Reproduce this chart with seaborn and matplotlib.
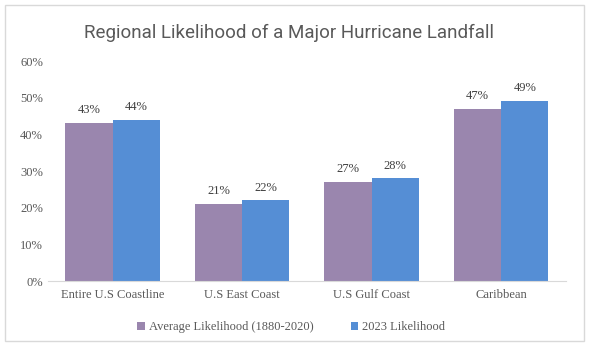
import pandas as pd
import seaborn as sns
import matplotlib.pyplot as plt
from matplotlib.patches import Rectangle
from matplotlib.ticker import PercentFormatter

regions = ['Entire U.S Coastline', 'U.S East Coast', 'U.S Gulf Coast', 'Caribbean']
average = [0.43, 0.21, 0.27, 0.47]
recent = [0.44, 0.22, 0.28, 0.49]
series = ['Average Likelihood (1880-2020)', '2023 Likelihood']

df = pd.DataFrame({
    'region': regions * 2,
    'value': average + recent,
    'series': [series[0]] * 4 + [series[1]] * 4,
})

sns.set_style('white')
plt.rcParams['font.family'] = ['Liberation Serif', 'DejaVu Serif']

fig = plt.figure(figsize=(5.9, 3.51), dpi=100)
ax = fig.add_axes([0.081, 0.199, 0.878, 0.627])

sns.barplot(data=df, x='region', y='value', hue='series',
            palette=['#9A86AE', '#558ED5'], width=0.73, gap=0,
            saturation=1, linewidth=0, ax=ax, legend=True)

for c in ax.containers:
    ax.bar_label(c, labels=[f'{v*100:.0f}%' for v in c.datavalues],
                 padding=5, fontsize=9, color='#404040')

ax.set_ylim(0, 0.6)
ax.set_yticks([0, 0.1, 0.2, 0.3, 0.4, 0.5, 0.6])
ax.yaxis.set_major_formatter(PercentFormatter(1.0, decimals=0))
ax.tick_params(axis='both', labelsize=9, labelcolor='#595959', length=0)
ax.tick_params(axis='x', pad=6)
ax.set_xlabel('')
ax.set_ylabel('')
for s in ['top', 'right', 'left']:
    ax.spines[s].set_visible(False)
ax.spines['bottom'].set_color('#D9D9D9')

ax.legend(loc='upper center', bbox_to_anchor=(0.47, -0.13), ncol=2,
          frameon=False, fontsize=9, handlelength=0.6, handleheight=0.6,
          columnspacing=3, handletextpad=0.3, labelcolor='#595959')

fig.text(0.49, 0.905, 'Regional Likelihood of a Major Hurricane Landfall',
         ha='center', va='center', fontsize=13.5, color='#595959',
         family='Roboto')

fig.patches.append(Rectangle((0.009, 0.028), 0.98, 0.958, transform=fig.transFigure,
                             fill=False, edgecolor='#D9D9D9', linewidth=1))

fig.savefig('out.png', dpi=100)
